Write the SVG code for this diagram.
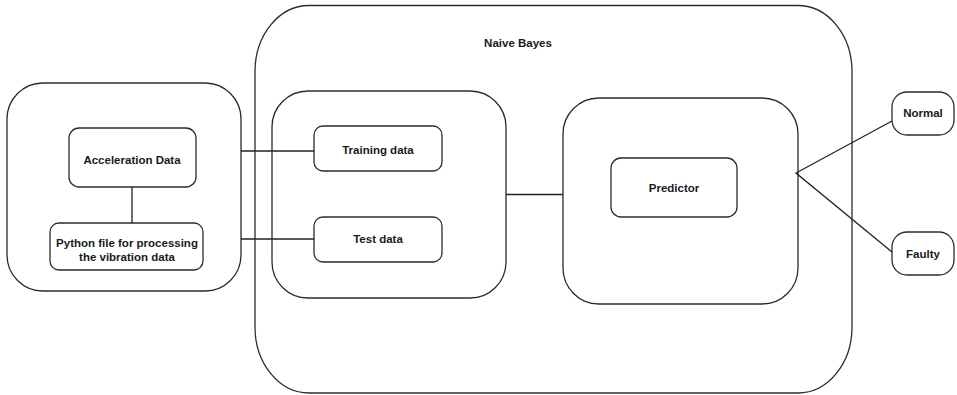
<svg xmlns="http://www.w3.org/2000/svg" width="957" height="395" viewBox="0 0 957 395">
<style>
.box{fill:none;stroke:#2b2b2b;stroke-width:1.3}
.ln{fill:none;stroke:#222;stroke-width:1.3}
.t{font-family:"Liberation Sans",Arial,sans-serif;font-weight:bold;font-size:11.5px;fill:#1a1a1a;text-anchor:middle}
</style>
<rect width="957" height="395" fill="#fff"/>
<g id="naive-bayes">
<rect class="box" x="255" y="5.5" width="597" height="387.5" rx="54" ry="66"/>
<text class="t" x="518" y="47">Naive Bayes</text>
</g>
<g id="input-group">
<rect class="box" x="7" y="83" width="234" height="208" rx="36" ry="36"/>
</g>
<g id="acceleration-data">
<rect class="box" x="69" y="128" width="127" height="59" rx="10" ry="10"/>
<text class="t" x="132" y="164">Acceleration Data</text>
</g>
<g id="python-file">
<rect class="box" x="50" y="223" width="153" height="47" rx="9" ry="9"/>
<text class="t" x="127" y="247">Python file for processing</text>
<text class="t" x="127" y="261">the vibration data</text>
</g>
<g id="data-split">
<rect class="box" x="272" y="91" width="234" height="207" rx="36" ry="36"/>
</g>
<g id="training-data">
<rect class="box" x="314" y="126" width="128" height="45" rx="9" ry="9"/>
<text class="t" x="378" y="154">Training data</text>
</g>
<g id="test-data">
<rect class="box" x="314" y="217" width="128" height="45" rx="9" ry="9"/>
<text class="t" x="378" y="243">Test data</text>
</g>
<g id="predictor-group">
<rect class="box" x="563" y="98" width="235" height="206" rx="36" ry="36"/>
</g>
<g id="predictor">
<rect class="box" x="611" y="158" width="126" height="59" rx="10" ry="10"/>
<text class="t" x="674" y="192">Predictor</text>
</g>
<g id="normal">
<rect class="box" x="892" y="92" width="62" height="43" rx="15" ry="15"/>
<text class="t" x="923" y="117">Normal</text>
</g>
<g id="faulty">
<rect class="box" x="892" y="232" width="62" height="43" rx="15" ry="15"/>
<text class="t" x="923" y="258">Faulty</text>
</g>
<g id="connectors">
<line class="ln" x1="132" y1="187" x2="132" y2="223"/>
<line class="ln" x1="241" y1="151" x2="314" y2="151"/>
<line class="ln" x1="241" y1="239" x2="314" y2="239"/>
<line class="ln" x1="506" y1="194.5" x2="563" y2="194.5"/>
<polyline class="ln" points="892,121 796,173 892,252"/>
</g>
</svg>
